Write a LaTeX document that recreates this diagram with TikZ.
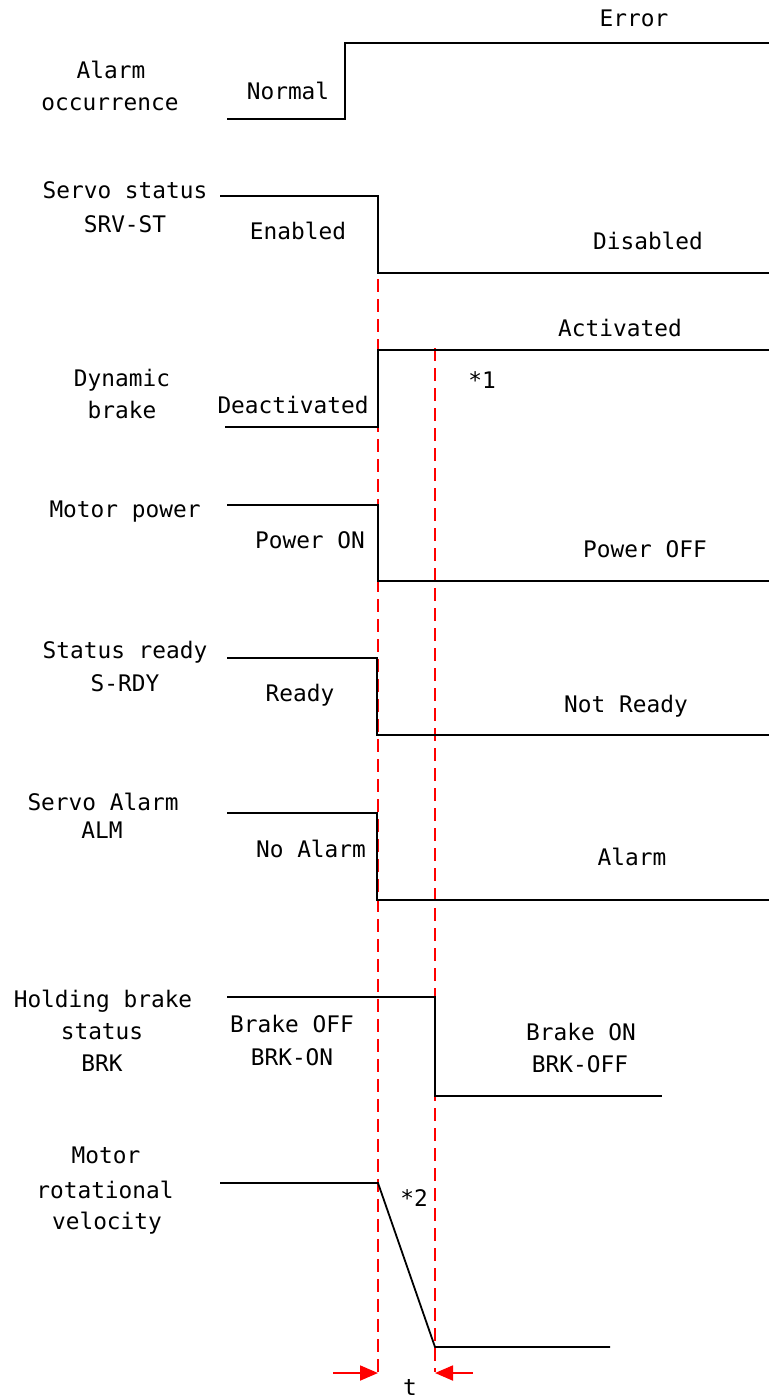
\documentclass[tikz,border=0pt]{standalone}
\usepackage{fontspec}
\newfontfamily\sigmono{DejaVu Sans Mono}
\usetikzlibrary{arrows.meta}
\begin{document}
\begin{tikzpicture}[x=1pt,y=-1pt,
  lab/.style={font={\sigmono\fontsize{22.8pt}{26pt}\selectfont}, anchor=base, inner sep=0pt},
  sig/.style={line width=2.8pt, line join=miter, black},
  vel/.style={line width=1.8pt, black},
  redline/.style={red, line width=1.9pt, dash pattern=on 13pt off 7pt},
  redarrow/.style={red, line width=1.9pt, -{Triangle[length=18pt,width=15pt]}}]
\useasboundingbox (0,0) rectangle (769,1399);
\fill[white] (0,0) rectangle (769,1399);

% red dashed timing lines
\coordinate (t1top) at (378,279);
\coordinate (t1bot) at (378,1372);
\coordinate (t2top) at (435,348);
\coordinate (t2bot) at (435,1372);
\draw[redline] (t1top) -- (t1bot);
\draw[redline] (t2top) -- (t2bot);

% Alarm occurrence
\node[lab] (l1a) at (111,79) {Alarm};
\node[lab] (l1b) at (110,111) {occurrence};
\node[lab] (n1) at (288,100) {Normal};
\node[lab] (e1) at (634,27) {Error};
\draw[sig] (227,119) -- (345,119) -- (345,43) -- (769,43);

% Servo status
\node[lab] (l2a) at (125,199) {Servo status};
\node[lab] (l2b) at (125,232) {SRV-ST};
\node[lab] (n2) at (298,239) {Enabled};
\node[lab] (e2) at (648,249) {Disabled};
\draw[sig] (220,196) -- (378,196) -- (378,273) -- (769,273);

% Dynamic brake
\node[lab] (l3a) at (122,386) {Dynamic};
\node[lab] (l3b) at (122,418) {brake};
\node[lab] (n3) at (293,413) {Deactivated};
\node[lab] (e3) at (620,336) {Activated};
\node[lab] (s1) at (482,388) {*1};
\draw[sig] (225,427) -- (378,427) -- (378,350) -- (769,350);

% Motor power
\node[lab] (l4a) at (125,517) {Motor power};
\node[lab] (n4) at (310,548) {Power ON};
\node[lab] (e4) at (645,557) {Power OFF};
\draw[sig] (227,505) -- (378,505) -- (378,581) -- (769,581);

% Status ready
\node[lab] (l5a) at (125,658) {Status ready};
\node[lab] (l5b) at (125,691) {S-RDY};
\node[lab] (n5) at (300,701) {Ready};
\node[lab] (e5) at (626,712) {Not Ready};
\draw[sig] (227,658) -- (377,658) -- (377,735) -- (769,735);

% Servo alarm
\node[lab] (l6a) at (103,810) {Servo Alarm};
\node[lab] (l6b) at (102,838) {ALM};
\node[lab] (n6) at (311,857) {No Alarm};
\node[lab] (e6) at (632,865) {Alarm};
\draw[sig] (227,813) -- (377,813) -- (377,900) -- (769,900);

% Holding brake
\node[lab] (l7a) at (103,1007) {Holding brake};
\node[lab] (l7b) at (102,1039) {status};
\node[lab] (l7c) at (102,1071) {BRK};
\node[lab] (n7a) at (292,1032) {Brake OFF};
\node[lab] (n7b) at (292,1065) {BRK-ON};
\node[lab] (e7a) at (581,1040) {Brake ON};
\node[lab] (e7b) at (580,1072) {BRK-OFF};
\draw[sig] (227,997) -- (435,997) -- (435,1096) -- (662,1096);

% Motor rotational velocity
\node[lab] (l8a) at (106,1163) {Motor};
\node[lab] (l8b) at (105,1198) {rotational};
\node[lab] (l8c) at (107,1229) {velocity};
\node[lab] (s2) at (414,1206) {*2};
\draw[vel] (220,1183) -- (378,1183) -- (435,1347) -- (610,1347);

% time interval t
\coordinate (a1s) at (333,1373);
\coordinate (a1e) at (378,1373);
\coordinate (a2s) at (473,1373);
\coordinate (a2e) at (435,1373);
\draw[redarrow] (a1s) -- (a1e);
\draw[redarrow] (a2s) -- (a2e);
\node[lab] (tl) at (410,1395) {t};
\end{tikzpicture}
\end{document}
